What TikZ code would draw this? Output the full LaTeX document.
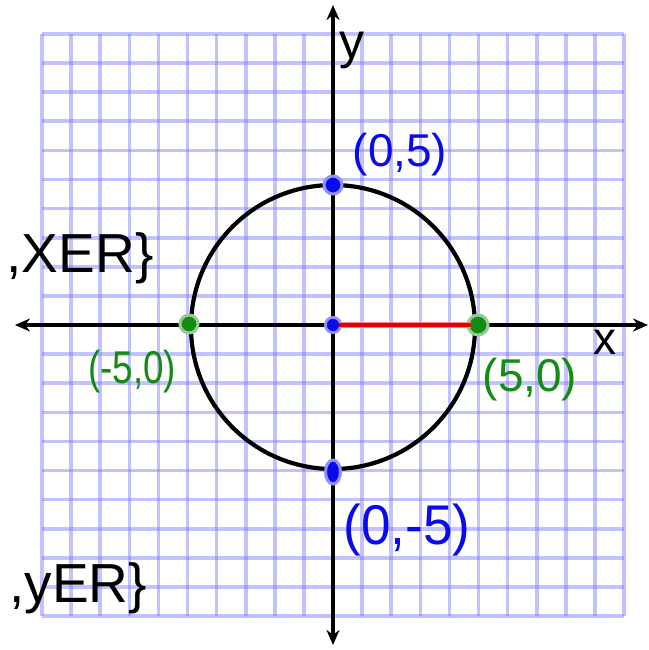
\documentclass[tikz,border=0pt]{standalone}
\usepackage{fontspec}
\setmainfont{Liberation Sans}
\usetikzlibrary{arrows.meta,shapes.geometric}
\definecolor{gridblue}{RGB}{120,120,255}
\definecolor{hblue}{RGB}{10,10,235}
\definecolor{hgreen}{RGB}{20,140,20}
\definecolor{hred}{RGB}{230,0,0}
\tikzset{
  gridline/.style={draw=gridblue, line width=3.6pt, opacity=0.45},
  axisline/.style={draw=black, line width=4.2pt, -{Stealth[length=15pt,width=13pt]}},
  dotpt/.style={circle, inner sep=0pt, minimum size=18pt},
  hand/.style={inner sep=0pt, anchor=center},
}
\begin{document}
\begin{tikzpicture}[x=1pt,y=-1pt]
\useasboundingbox (0,0) rectangle (648,650);
\fill[white] (0,0) rectangle (648,650);
% grid
\foreach \i in {0,...,20}{
  \draw[gridline] ({42+29.1*\i},34) -- ({42+29.1*\i},616);
  \draw[gridline] (42,{34+29.1*\i}) -- (624,{34+29.1*\i});
}
% axes
\coordinate (xl) at (15,325);
\coordinate (xr) at (648,325);
\coordinate (yt) at (333,5);
\coordinate (yb) at (333,645);
\coordinate (O) at (333,325);
\draw[axisline] (O) -- (xr);
\draw[axisline] (O) -- (xl);
\draw[axisline] (O) -- (yt);
\draw[axisline] (O) -- (yb);
% circle
\node[circle, draw=black, line width=4.2pt, minimum size=284pt, inner sep=0pt] (circ) at (333,327) {};
% dots
\node[dotpt, fill=hblue, draw=hblue!45, line width=3pt, minimum size=15pt] (pO) at (333,325) {};
\node[dotpt, fill=hblue, draw=hblue!45, line width=3pt] (ptop) at (333,185) {};
\node[ellipse, inner sep=0pt, minimum width=15pt, minimum height=24pt, fill=hblue, draw=hblue!45, line width=3pt] (pbot) at (333,472) {};
\node[dotpt, fill=hgreen, draw=hgreen!45, line width=3pt] (pleft) at (189,324) {};
\node[dotpt, fill=hgreen, draw=hgreen!45, line width=3pt, minimum size=20pt] (pright) at (478,325) {};
\draw[hred!45, line width=6.5pt] (pO.center) -- (pright.center);
\draw[hred, line width=3.8pt] (pO.center) -- (pright.center);
\node[dotpt, fill=hblue, minimum size=12pt] at (pO) {};
\node[dotpt, fill=hgreen, minimum size=15pt] at (pright) {};
% labels
\node[hand, text=black] (ly) at (352,50) {\fontsize{50}{52}\selectfont y};
\node[hand, text=black] (lx) at (605,342) {\fontsize{46}{50}\selectfont x};
\node[hand, text=hblue] (ltop) at (400,155) {\fontsize{46}{50}\selectfont (0,5)};
\node[hand, text=hblue, xscale=0.95] (lbot) at (407,530) {\fontsize{56}{60}\selectfont (0,-5)};
\node[hand, text=hgreen] (lright) at (530,380) {\fontsize{46}{50}\selectfont (5,0)};
\node[hand, text=hgreen, xscale=0.8] (lleft) at (132,372) {\fontsize{46}{50}\selectfont (-5,0)};
\node[hand, text=black] (lxer) at (80,258) {\fontsize{55}{60}\selectfont ,XER\}};
\node[hand, text=black] (lyer) at (78,588) {\fontsize{55}{60}\selectfont ,yER\}};
\end{tikzpicture}
\end{document}
